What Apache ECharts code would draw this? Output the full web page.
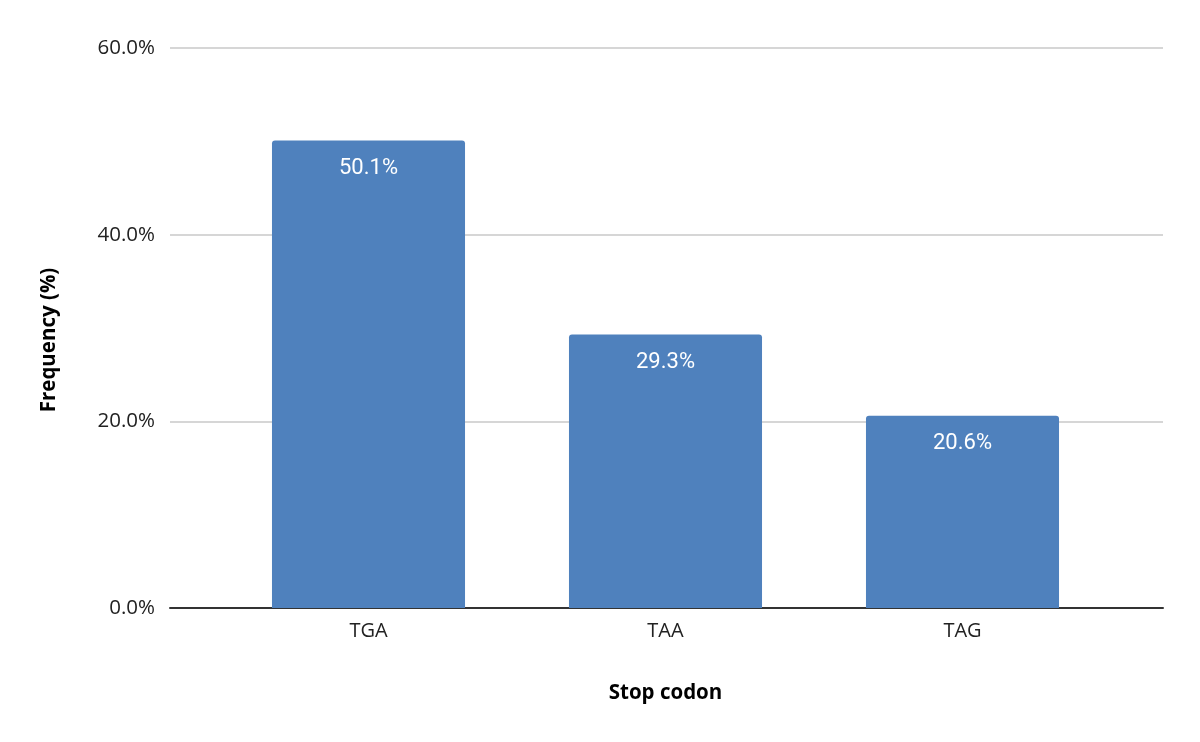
<!DOCTYPE html>
<html><head><meta charset="utf-8">
<script src="https://cdn.jsdelivr.net/npm/echarts@6/dist/echarts.min.js"></script>
<style>html,body{margin:0;padding:0;background:#fff}#c{width:1200px;height:742px}</style>
</head><body><div id="c"></div>
<script>
const categories = ['TGA', 'TAA', 'TAG'];
const frequency = [50.1, 29.3, 20.6];
const yTicks = [0, 20, 40, 60];

const chart = echarts.init(document.getElementById('c'));
const yMin = yTicks[0], yMax = yTicks[yTicks.length - 1];
chart.setOption({
  animation: false,
  grid: [
    { left: 170, right: 37, top: 48, bottom: 134 },
    { left: 220, right: 89, top: 48, bottom: 134 }
  ],
  xAxis: [{
    gridIndex: 0,
    type: 'category',
    data: categories,
    axisLine: { lineStyle: { color: '#333', width: 2 } },
    axisTick: { show: false },
    axisLabel: { show: false }
  }, {
    gridIndex: 1,
    type: 'category',
    data: categories,
    name: 'Stop codon',
    nameLocation: 'middle',
    nameGap: 75,
    nameTextStyle: { fontFamily: 'Open Sans', fontWeight: 'bold', fontSize: 20.5, color: '#000' },
    axisLine: { show: false },
    axisTick: { show: false },
    axisLabel: { fontFamily: 'Open Sans', fontSize: 20, color: '#222', margin: 13 }
  }],
  yAxis: [{
    gridIndex: 0,
    type: 'value',
    min: yMin, max: yMax, interval: 20,
    name: 'Frequency (%)',
    nameLocation: 'middle',
    nameGap: 110,
    nameTextStyle: { fontFamily: 'Open Sans', fontWeight: 'bold', fontSize: 20.5, color: '#000', padding: [0, 24, 0, 0] },
    axisLine: { show: false },
    axisTick: { show: false },
    splitLine: { lineStyle: { color: '#c8c8c8', width: 1.5 } },
    axisLabel: { fontFamily: 'Open Sans', fontSize: 20.5, color: '#222', margin: 15,
      formatter: v => v.toFixed(1) + '%' }
  }, {
    gridIndex: 1,
    type: 'value',
    min: yMin, max: yMax, interval: 20,
    show: false,
    splitLine: { show: false }
  }],
  series: [{
    type: 'bar',
    xAxisIndex: 1,
    yAxisIndex: 1,
    data: frequency,
    barCategoryGap: '35%',
    itemStyle: { color: '#4f81bd', borderRadius: [3, 3, 0, 0] },
    label: {
      show: true, position: 'insideTop', distance: 17,
      color: '#fff', fontFamily: 'Roboto', fontSize: 22,
      formatter: p => p.value.toFixed(1) + '%'
    }
  }]
});
</script></body></html>
